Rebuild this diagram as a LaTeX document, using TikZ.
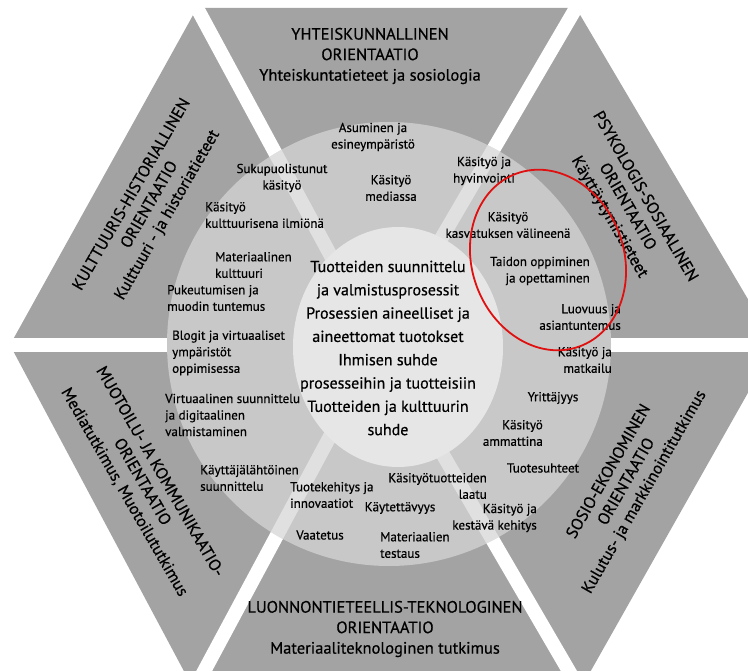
\documentclass[tikz,border=0pt]{standalone}
\usepackage{fontspec}
\setmainfont{PT Sans}
\newfontfamily\heavyfont{PT Sans}[UprightFeatures={FakeBold=0.6}]
\definecolor{hexgray}{HTML}{A3A3A3}
\definecolor{ringgray}{HTML}{C8C8C8}
\definecolor{innergray}{HTML}{E6E6E6}
\definecolor{redmark}{HTML}{E01010}
\begin{document}
\begin{tikzpicture}[x=1pt,y=-1pt,
  lbl/.style={font=\heavyfont\fontsize{13}{16.5}\selectfont, inner sep=0pt, align=center},
  lbll/.style={lbl, align=left, anchor=west},
  lblr/.style={lbl, align=right, anchor=east},
  ttl/.style={font=\heavyfont\fontsize{16.5}{20.5}\selectfont, inner sep=0pt, align=center},
  ctr/.style={font=\heavyfont\fontsize{16}{23.3}\selectfont, inner sep=0pt, align=center},
  gap/.style={white, line width=14pt, shorten >=-30pt},
  softgap/.style={white, opacity=0.45, line width=14pt, shorten >=-30pt}]
\useasboundingbox (0,0) rectangle (748,671);
\fill[white] (0,0) rectangle (748,671);
% hexagon
\coordinate (C) at (379,345);
\coordinate (TL) at (197,8);
\coordinate (TR) at (576,8);
\coordinate (R) at (775,345);
\coordinate (BR) at (580,690);
\coordinate (BL) at (194,690);
\coordinate (L) at (10,345);
\fill[hexgray] (TL) -- (TR) -- (R) -- (BR) -- (BL) -- (L) -- cycle;
\foreach \v in {TL,TR,R,BR,BL,L} \draw[gap] (C) -- (\v);
% ring
\coordinate (RC) at (389,344);
\fill[ringgray] (RC) circle [radius=222];
\begin{scope}
  \clip (RC) circle [radius=222];
  \foreach \v in {TL,TR,BR,BL} \draw[softgap] (C) -- (\v);
\end{scope}
% inner disk
\fill[innergray] (398,347) ellipse [x radius=105, y radius=120];

% sector titles
\node[ttl] (t1) at (370,56) {YHTEISKUNNALLINEN\\ORIENTAATIO\\Yhteiskuntatieteet ja sosiologia};
\node[ttl] (t2) at (385,629) {LUONNONTIETEELLIS-TEKNOLOGINEN\\ORIENTAATIO\\Materiaaliteknologinen tutkimus};
\node[ttl, rotate=60] (t3) at (150,205) {KULTTUURIS-HISTORIALLINEN\\ORIENTAATIO\\Kulttuuri - ja historiatieteet};
\node[ttl, rotate=-60] (t4) at (627,207) {PSYKOLOGIS-SOSIAALINEN\\ORIENTAATIO\\Käyttäytymistieteet};
\node[ttl, rotate=-60] (t5) at (142,482) {MUOTOILU- JA KOMMUNIKAATIO-\\ORIENTAATIO\\Mediatutkimus, Muotoilututkimus};
\node[ttl, rotate=60] (t6) at (627,482) {SOSIO-EKONOMINEN\\ORIENTAATIO\\Kulutus- ja markkinointitutkimus};

% centre
\node[ctr] (c0) at (388,348) {Tuotteiden suunnittelu\\ja valmistusprosessit\\Prosessien aineelliset ja\\aineettomat tuotokset\\Ihmisen suhde\\prosesseihin ja tuotteisiin\\Tuotteiden ja kulttuurin\\suhde};

% ring labels
\node[lbl] (a1) at (373,137) {Asuminen ja\\esineympäristö};
\node[lbl] (a2) at (391,188) {Käsityö\\mediassa};
\node[lbl] (a3) at (282,178) {Sukupuolistunut\\käsityö};
\node[lbll] (a4) at (205,215) {Käsityö\\kulttuurisena ilmiönä};
\node[lbll] (a5) at (215,265) {Materiaalinen\\kulttuuri};
\node[lbll] (a6) at (167,298) {Pukeutumisen ja\\muodin tuntemus};
\node[lbll] (a7) at (172,353) {Blogit ja virtuaaliset\\ympäristöt\\oppimisessa};
\node[lbll] (a8) at (165,415) {Virtuaalinen suunnittelu\\ja digitaalinen\\valmistaminen};
\node[lbll] (a9) at (200,478) {Käyttäjälähtöinen\\suunnittelu};
\node[lbll] (a10) at (290,495) {Tuotekehitys ja\\innovaatiot};
\node[lbl] (a11) at (320,535) {Vaatetus};
\node[lbl] (a12) at (400,508) {Käytettävyys};
\node[lblr] (a13) at (487,486) {Käsityötuotteiden\\laatu};
\node[lbll] (a14) at (380,545) {Materiaalien\\testaus};
\node[lblr] (a15) at (537,518) {Käsityö ja\\kestävä kehitys};
\node[lbl] (a16) at (543,468) {Tuotesuhteet};
\node[lblr] (a17) at (543,433) {Käsityö\\ammattina};
\node[lbl] (a18) at (553,398) {Yrittäjyys};
\node[lblr] (a19) at (612,360) {Käsityö ja\\matkailu};
\node[lblr] (a20) at (621,317) {Luovuus ja\\asiantuntemus};
\node[lblr] (a21) at (590,271) {Taidon oppiminen\\ja opettaminen};
\node[lbl] (a22) at (508,225) {Käsityö\\kasvatuksen välineenä};
\node[lbl] (a23) at (484,171) {Käsityö ja\\hyvinvointi};

% red mark
\draw[redmark, line width=1.8pt] (548,260) ellipse [x radius=76, y radius=92, rotate=20];
\end{tikzpicture}
\end{document}
